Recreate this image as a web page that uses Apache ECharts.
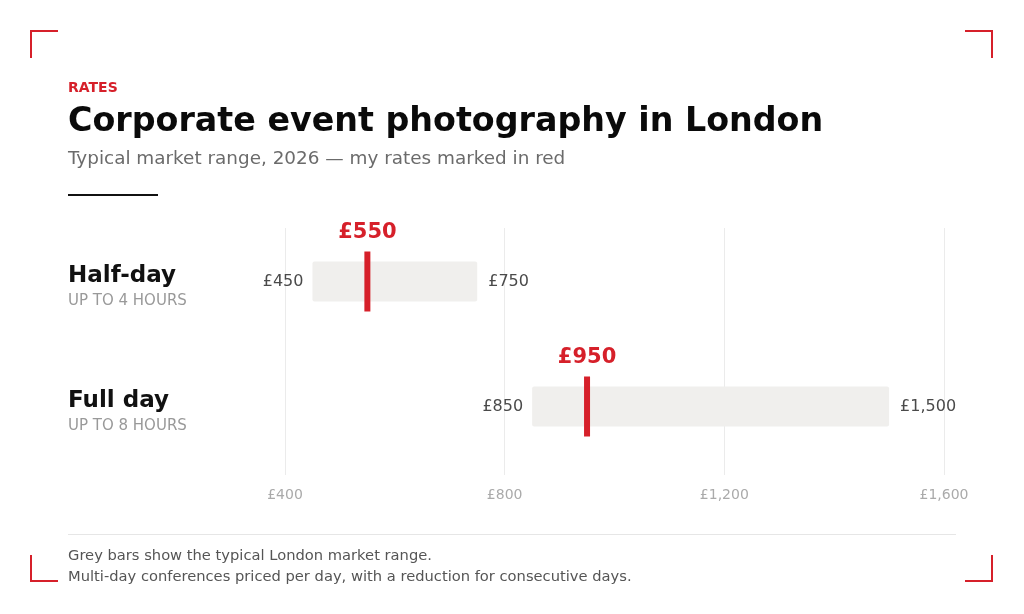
<!DOCTYPE html>
<html>
<head>
<meta charset="utf-8">
<style>
  html, body { margin: 0; padding: 0; background: #fff; }
  #chart { width: 1024px; height: 614px; }
</style>
<script src="https://cdn.jsdelivr.net/npm/echarts@6/dist/echarts.min.js"></script>
</head>
<body>
<div id="chart"></div>
<script>
const chart = echarts.init(document.getElementById("chart"));

// data
const categories = ["Half-day", "Full day"];
const subLabels = ["UP TO 4 HOURS", "UP TO 8 HOURS"];
const rangeLow = [450, 850];
const rangeHigh = [750, 1500];
const myRate = [550, 950];
const xTicks = [400, 800, 1200, 1600];

const RED = "#d6202a";
const FONT = "DejaVu Sans";

function money(v) {
    return "£" + v.toLocaleString("en-GB");
}

function corner(x, y, dx, dy) {
    return {
        type: "polyline",
        shape: {points: [[x + dx, y], [x, y], [x, y + dy]]},
        style: {stroke: RED, lineWidth: 2, fill: null}
    };
}

const option = {
    backgroundColor: "#fff",
    textStyle: {fontFamily: FONT},
    animation: false,
    grid: [
        {left: 285, right: 80, top: 219, height: 250},
        {left: 285, right: 80, top: 228, height: 247}
    ],
    xAxis: [
        {
            gridIndex: 0, type: "value", min: 400, max: 1600, interval: 400,
            show: false
        },
        {
            gridIndex: 1, type: "value", min: 400, max: 1600, interval: 400,
            axisLine: {show: false}, axisTick: {show: false},
            splitLine: {lineStyle: {color: "#ebebeb", width: 1}},
            axisLabel: {
                color: "#aaaaaa", fontSize: 14, margin: 13, fontFamily: FONT,
                customValues: xTicks,
                formatter: (v) => money(v)
            }
        }
    ],
    yAxis: [
        {
            gridIndex: 0, type: "category", data: categories, inverse: true,
            axisLine: {show: false}, axisTick: {show: false}, splitLine: {show: false},
            axisLabel: {
                align: "left", margin: 217,
                formatter: (v, i) => "{a|" + v + "}\n{b|" + subLabels[i] + "}",
                rich: {
                    a: {fontSize: 23, fontWeight: "bold", color: "#111", fontFamily: FONT, lineHeight: 39},
                    b: {fontSize: 15, color: "#999", fontFamily: FONT, lineHeight: 11}
                }
            }
        },
        {gridIndex: 1, type: "value", show: false}
    ],
    series: [
        {
            type: "custom",
            xAxisIndex: 0, yAxisIndex: 0,
            data: categories.map((c, i) => [i, rangeLow[i], rangeHigh[i]]),
            renderItem: function (params, api) {
                const cat = api.value(0);
                const a = api.coord([api.value(1), cat]);
                const b = api.coord([api.value(2), cat]);
                const h = 40;
                return {
                    type: "group",
                    children: [
                        {
                            type: "rect",
                            shape: {x: a[0], y: a[1] - h / 2, width: b[0] - a[0], height: h, r: 2},
                            style: {fill: "#f0efed"}
                        },
                        {
                            type: "text",
                            style: {
                                x: a[0] - 9, y: a[1], text: money(api.value(1)),
                                align: "right", verticalAlign: "middle",
                                fill: "#4a4a4a", fontSize: 16, fontFamily: FONT
                            }
                        },
                        {
                            type: "text",
                            style: {
                                x: b[0] + 11, y: b[1], text: money(api.value(2)),
                                align: "left", verticalAlign: "middle",
                                fill: "#4a4a4a", fontSize: 16, fontFamily: FONT
                            }
                        }
                    ]
                };
            }
        },
        {
            type: "scatter",
            xAxisIndex: 0, yAxisIndex: 0,
            symbol: "rect",
            symbolSize: [6, 60],
            itemStyle: {color: RED, opacity: 1},
            data: myRate.map((v, i) => [v, i]),
            label: {
                show: true, position: "top", distance: 8,
                formatter: (p) => money(p.value[0]),
                color: RED, fontSize: 21, fontWeight: "bold", fontFamily: FONT
            },
            z: 5
        }
    ],
    graphic: [
        corner(31, 31, 27, 27),
        corner(992, 31, -27, 27),
        corner(31, 581, 27, -26),
        corner(992, 581, -27, -26),
        {
            type: "text", left: 68, top: 81,
            style: {text: "RATES", fill: RED, fontSize: 14, fontWeight: "bold", fontFamily: FONT}
        },
        {
            type: "text", left: 68, top: 106,
            style: {text: "Corporate event photography in London", fill: "#0a0a0a", fontSize: 33.3, fontWeight: "bold", fontFamily: FONT}
        },
        {
            type: "text", left: 68, top: 150,
            style: {text: "Typical market range, 2026 — my rates marked in red", fill: "#6b6b6b", fontSize: 18.4, fontFamily: FONT}
        },
        {
            type: "rect", left: 68, top: 194,
            shape: {width: 90, height: 2},
            style: {fill: "#111"}
        },
        {
            type: "rect", left: 68, top: 534,
            shape: {width: 888, height: 1},
            style: {fill: "#e6e6e6"}
        },
        {
            type: "text", left: 68, top: 549,
            style: {text: "Grey bars show the typical London market range.", fill: "#555", fontSize: 14.7, fontFamily: FONT}
        },
        {
            type: "text", left: 68, top: 570,
            style: {text: "Multi-day conferences priced per day, with a reduction for consecutive days.", fill: "#555", fontSize: 14.7, fontFamily: FONT}
        }
    ]
};

chart.setOption(option);
</script>
</body>
</html>
